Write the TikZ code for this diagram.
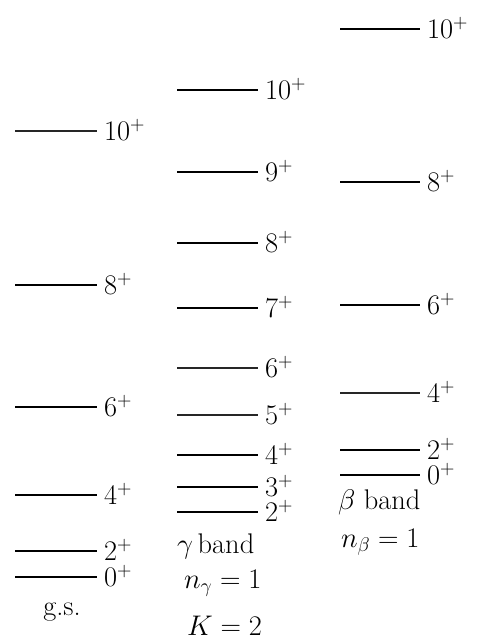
\RequirePackage{fix-cm}
\documentclass[tikz,border=0pt]{standalone}
\begin{document}
\begin{tikzpicture}[x=1bp,y=-1bp,
  every node/.style={font=\fontsize{28.5}{33}\selectfont, inner sep=0pt, outer sep=0pt},
  lab/.style={anchor=base west},
  thk/.style={line width=2.5bp},
  mid/.style={line width=1.8bp},
  thn/.style={line width=1.3bp, black!85}]
\useasboundingbox (0,0) rectangle (479,641);
% #1 x1, #2 x2, #3 y, #4 style, #5 name, #6 label
\newcommand\lev[6]{%
  \coordinate (#5a) at (#1,#3);
  \coordinate (#5b) at (#2,#3);
  \draw[#4] (#5a) -- (#5b);
  \node[lab] (#5) at ([xshift=7bp,yshift=-9.5bp]#5b) {$#6^+$};}
% ground-state band
\lev{15}{97}{131}{thn}{g10}{10}
\lev{15}{97}{285}{thk}{g8}{8}
\lev{15}{97}{407}{thk}{g6}{6}
\lev{15}{97}{495}{thk}{g4}{4}
\lev{15}{97}{551}{thk}{g2}{2}
\lev{15}{97}{577}{thk}{g0}{0}
\node[anchor=base] (gs) at (62,615) {g.s.};
% gamma band
\lev{177}{258}{90}{thk}{c10}{10}
\lev{177}{258}{172}{thk}{c9}{9}
\lev{177}{258}{243}{thk}{c8}{8}
\lev{177}{258}{308}{thk}{c7}{7}
\lev{177}{258}{368}{thn}{c6}{6}
\lev{177}{258}{415}{thn}{c5}{5}
\lev{177}{258}{455}{thk}{c4}{4}
\lev{177}{258}{487}{mid}{c3}{3}
\lev{177}{258}{512}{mid}{c2}{2}
\node[anchor=base west] (gband) at (177,553) {$\gamma$\,band};
\node[anchor=base west] (ngam) at (184,588) {$n_\gamma=1$};
\node[anchor=base west] (kgam) at (187,635) {$K=2$};
% beta band
\lev{340}{420}{29}{thk}{b10}{10}
\lev{340}{420}{182}{thk}{b8}{8}
\lev{340}{420}{305}{thk}{b6}{6}
\lev{340}{420}{393}{thn}{b4}{4}
\lev{340}{420}{450}{thk}{b2}{2}
\lev{340}{420}{475}{thk}{b0}{0}
\node[anchor=base west] (bband) at (338,509) {$\beta$ band};
\node[anchor=base west] (nbet) at (341,547) {$n_\beta=1$};
\end{tikzpicture}
\end{document}
